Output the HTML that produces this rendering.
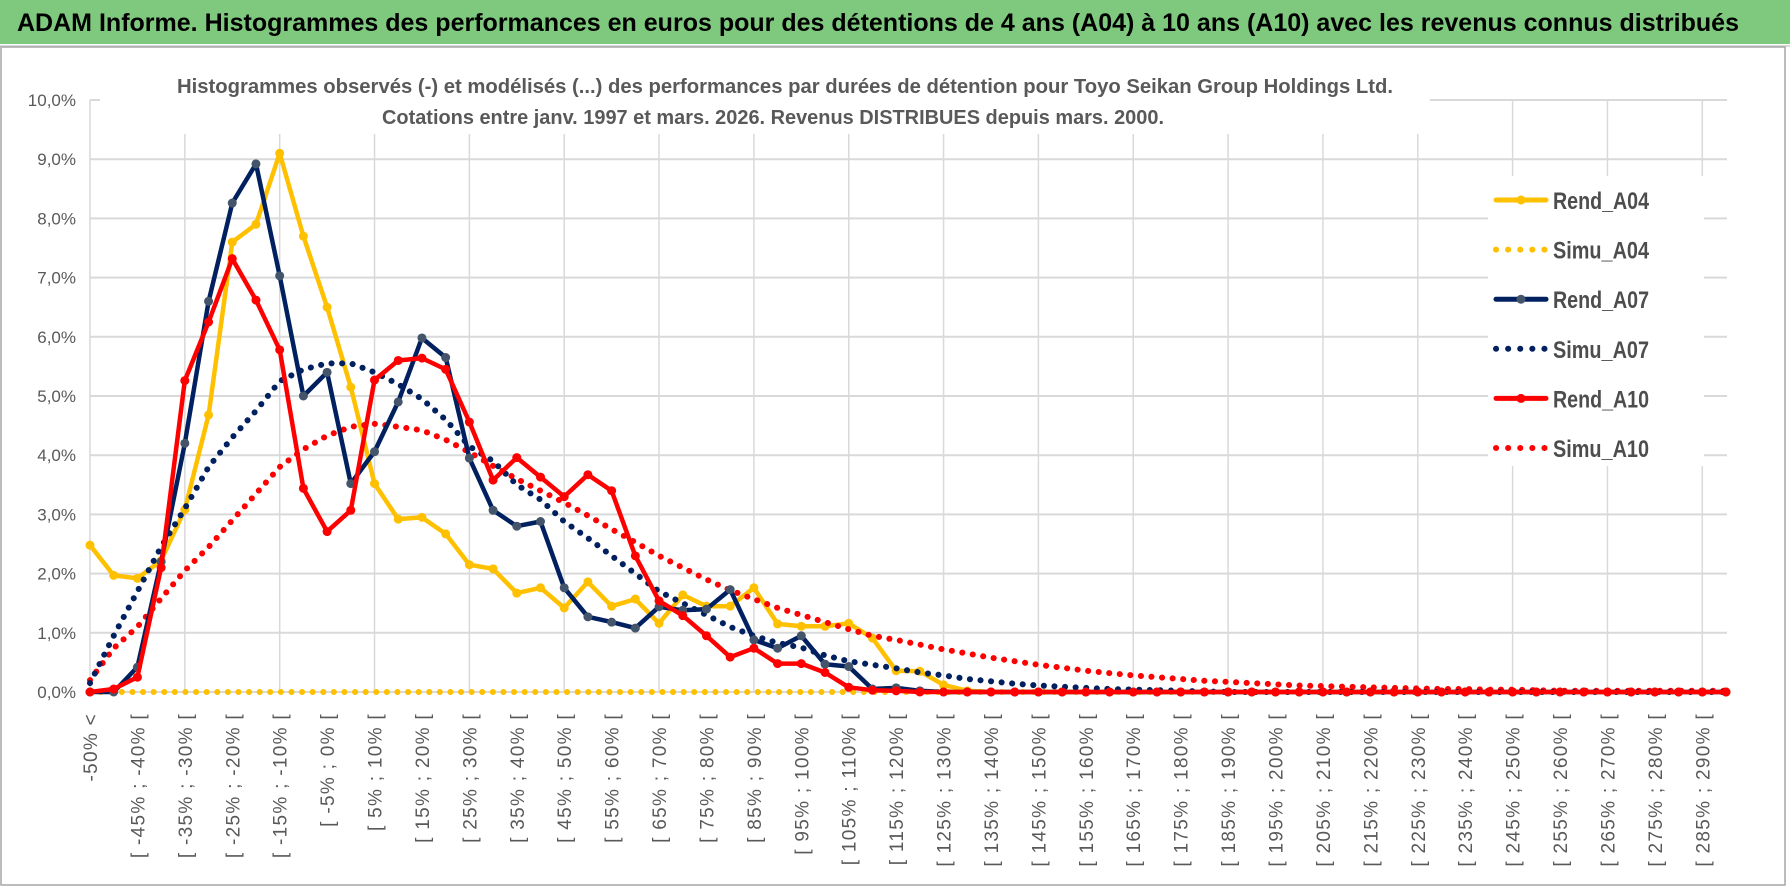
<!DOCTYPE html>
<html><head><meta charset="utf-8"><style>
html,body{margin:0;padding:0;background:#fff;}
svg{display:block;font-family:"Liberation Sans Narrow","Liberation Sans",sans-serif;}
</style></head><body>
<svg id="chart" width="1790" height="888" viewBox="0 0 1790 888" xmlns="http://www.w3.org/2000/svg">
<rect x="0" y="0" width="1790" height="888" fill="#fff"/>
<rect x="0" y="0" width="1790" height="44" fill="#7fc97f"/>
<line x1="0" y1="46" x2="1790" y2="46" stroke="#d9d9d9" stroke-width="2"/>
<text x="17" y="31" font-size="25" font-weight="bold" fill="#000" textLength="1722" lengthAdjust="spacingAndGlyphs">ADAM Informe. Histogrammes des performances en euros pour des détentions de 4 ans (A04) à 10 ans (A10) avec les revenus connus distribués</text>
<rect x="1" y="47" width="1784" height="838" fill="none" stroke="#a6a6a6" stroke-width="1.5"/>
<g id="grid"></g>
<rect x="100" y="62" width="1330" height="72" fill="#fff"/>
<text x="177" y="93" font-size="20" font-weight="bold" fill="#595959" textLength="1216" lengthAdjust="spacingAndGlyphs">Histogrammes observés (-) et modélisés (...) des performances par durées de détention pour Toyo Seikan Group Holdings Ltd.</text>
<text x="382" y="124" font-size="20" font-weight="bold" fill="#595959" textLength="782" lengthAdjust="spacingAndGlyphs">Cotations entre janv. 1997 et mars. 2026. Revenus DISTRIBUES depuis mars. 2000.</text>
<g id="yticks"></g>
<g id="xticks"></g>
<g id="series"></g>
<rect x="1488" y="176" width="216" height="290" fill="#fff"/>
<g id="legend"></g>
</svg>
<script>
const categories = (function(){ const c=['-50% <']; for(let i=1;i<70;i++){const lo=-50+5*(i-1);c.push('[ '+lo+'% ; '+(lo+5)+'% [');} return c; })();
const yTicks = [0,1,2,3,4,5,6,7,8,9,10];
const yTickLabels = ['0,0%','1,0%','2,0%','3,0%','4,0%','5,0%','6,0%','7,0%','8,0%','9,0%','10,0%'];
const rendA04 = [2.48,1.97,1.92,2.22,3.08,4.68,7.6,7.9,9.1,7.7,6.5,5.15,3.52,2.92,2.95,2.67,2.15,2.08,1.67,1.76,1.42,1.86,1.45,1.57,1.16,1.64,1.45,1.45,1.76,1.15,1.11,1.11,1.16,0.91,0.36,0.35,0.12,0.02,0,0,0,0,0,0,0,0,0,0,0,0,0,0,0,0,0,0,0,0,0,0,0,0,0,0,0,0,0,0,0,0];
const simuA04 = [0,0,0,0,0,0,0,0,0,0,0,0,0,0,0,0,0,0,0,0,0,0,0,0,0,0,0,0,0,0,0,0,0,0,0,0,0,0,0,0,0,0,0,0,0,0,0,0,0,0,0,0,0,0,0,0,0,0,0,0,0,0,0,0,0,0,0,0,0,0];
const rendA07 = [0,0,0.42,2.2,4.2,6.6,8.26,8.92,7.03,5.0,5.4,3.52,4.06,4.9,5.98,5.65,3.95,3.07,2.8,2.88,1.76,1.27,1.18,1.08,1.44,1.38,1.4,1.73,0.88,0.74,0.95,0.47,0.43,0.05,0.07,0.02,0,0,0,0,0,0,0,0,0,0,0,0,0,0,0,0,0,0,0,0,0,0,0,0,0,0,0,0,0,0,0,0,0,0];
const simuA07 = [0.15,0.95,1.7,2.45,3.1,3.8,4.3,4.75,5.25,5.45,5.55,5.55,5.4,5.2,4.95,4.6,4.15,3.9,3.5,3.25,2.88,2.6,2.3,2.0,1.7,1.5,1.3,1.1,0.95,0.83,0.75,0.62,0.52,0.46,0.4,0.33,0.28,0.22,0.18,0.14,0.11,0.09,0.07,0.05,0.04,0.03,0.02,0.01,0,0,0,0,0,0,0,0,0,0,0,0,0,0,0,0,0,0,0,0,0,0];
const rendA10 = [0,0.05,0.25,2.1,5.26,6.25,7.32,6.62,5.78,3.44,2.71,3.07,5.27,5.6,5.64,5.45,4.56,3.58,3.96,3.63,3.3,3.67,3.4,2.3,1.54,1.29,0.95,0.59,0.74,0.48,0.48,0.33,0.08,0.03,0.02,0,0,0,0,0,0,0,0,0,0,0,0,0,0,0,0,0,0,0,0,0,0,0,0,0,0,0,0,0,0,0,0,0,0,0];
const simuA10 = [0.2,0.74,1.1,1.58,2.05,2.45,2.9,3.35,3.8,4.1,4.33,4.48,4.53,4.48,4.42,4.26,4.05,3.82,3.6,3.4,3.2,2.98,2.75,2.53,2.3,2.1,1.9,1.72,1.57,1.42,1.3,1.18,1.06,0.95,0.88,0.8,0.72,0.65,0.58,0.52,0.46,0.41,0.36,0.32,0.28,0.25,0.22,0.19,0.17,0.15,0.13,0.11,0.1,0.09,0.08,0.07,0.06,0.05,0.05,0.04,0.04,0.03,0.02,0.02,0.02,0.02,0.02,0.02,0.02,0.02];
const seriesNames = ['Rend_A04','Simu_A04','Rend_A07','Simu_A07','Rend_A10','Simu_A10'];

const NS='http://www.w3.org/2000/svg';
const X0=90, DX=(1726-90)/69, Y0=692, DY=59.2;
function xs(i){return X0+i*DX;}
function ys(v){return Y0-v*DY;}
function mk(tag,attrs,parent){const e=document.createElementNS(NS,tag);for(const k in attrs)e.setAttribute(k,attrs[k]);parent.appendChild(e);return e;}

const grid=document.getElementById('grid');
yTicks.forEach(function(v){
  const l=mk('line',{x1:X0,x2:1727,y1:ys(v),y2:ys(v),stroke:'#d9d9d9','stroke-width':2},grid);
  
  
});
for(let i=0;i<categories.length;i+=4){
  const l=mk('line',{x1:xs(i),x2:xs(i),y1:ys(10),y2:Y0,stroke:'#d9d9d9','stroke-width':1.5},grid);
  
  
}
const yt=document.getElementById('yticks');
yTicks.forEach(function(v,k){
  const t=mk('text',{x:76,y:ys(v)+6,'text-anchor':'end','font-size':17,fill:'#595959'},yt);
  t.textContent=yTickLabels[k];
  
  
});
const xt=document.getElementById('xticks');
for(let i=0;i<categories.length;i+=2){
  const x=xs(i)+7, y=713;
  const t=mk('text',{x:x,y:y,'text-anchor':'end','font-size':19,'letter-spacing':1.3,fill:'#595959','font-family':'Liberation Sans, sans-serif',transform:'rotate(-90 '+x+' '+y+')'},xt);
  t.textContent=categories[i];
  
  
}
const S=document.getElementById('series');
function drawLine(data,color,dotted,marker,name){
  const pts=data.map(function(v,i){return xs(i).toFixed(1)+','+ys(v).toFixed(1);}).join(' ');
  const attrs={points:pts,fill:'none',stroke:color,'stroke-width':dotted?5:4.5,'stroke-linejoin':'round','stroke-linecap':'round'};
  if(dotted){attrs['stroke-dasharray']='0.1 10.5';attrs['stroke-width']=6;}
  const p=mk('polyline',attrs,S);
  
  
  if(marker){
    data.forEach(function(v,i){
      const c=mk('circle',{cx:xs(i),cy:ys(v),r:4.5,fill:marker},S);
      
      
    });
  }
}
drawLine(simuA04,'#ffc000',true,null,'simu-a04');
drawLine(rendA04,'#ffc000',false,'#ffc000','rend-a04');
drawLine(simuA10,'#ff0000',true,null,'simu-a10');
drawLine(simuA07,'#002060',true,null,'simu-a07');
drawLine(rendA07,'#002060',false,'#44546a','rend-a07');
drawLine(rendA10,'#ff0000',false,'#ff0000','rend-a10');

const L=document.getElementById('legend');
const legColors=['#ffc000','#ffc000','#002060','#002060','#ff0000','#ff0000'];
const legMarker=['#ffc000',null,'#44546a',null,'#ff0000',null];
seriesNames.forEach(function(n,k){
  const y=200+k*49.6;
  const g=mk('g',{},L);
  
  
  if(legMarker[k]){
    mk('line',{x1:1496,x2:1546,y1:y,y2:y,stroke:legColors[k],'stroke-width':5,'stroke-linecap':'round'},g);
    mk('circle',{cx:1521,cy:y,r:4.5,fill:legMarker[k]},g);
  } else {
    mk('line',{x1:1496,x2:1546,y1:y,y2:y,stroke:legColors[k],'stroke-width':6,'stroke-linecap':'round','stroke-dasharray':'0.1 12'},g);
  }
  const t=mk('text',{x:1553,y:y+9,'font-size':24,'font-weight':'bold',fill:'#4d4d4d',textLength:96,lengthAdjust:'spacingAndGlyphs'},g);
  t.textContent=n;
});
</script>
</body></html>
